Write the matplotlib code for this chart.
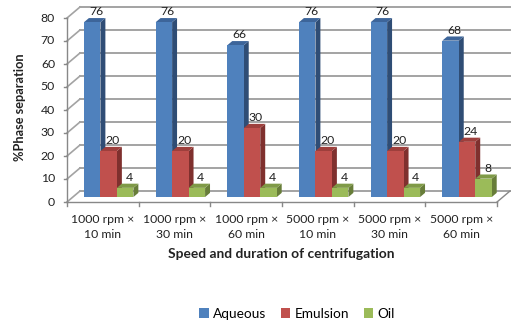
import numpy as np
import matplotlib.pyplot as plt
from matplotlib.patches import Polygon, Patch

plt.rcParams['font.family'] = ['Lato', 'DejaVu Sans']

# データ
categories = ['1000 rpm ×\n10 min', '1000 rpm ×\n30 min', '1000 rpm ×\n60 min',
              '5000 rpm ×\n10 min', '5000 rpm ×\n30 min', '5000 rpm ×\n60 min']
aqueous = [76, 76, 66, 76, 76, 68]
emulsion = [20, 20, 30, 20, 20, 24]
oil = [4, 4, 4, 4, 4, 8]
series_names = ['Aqueous', 'Emulsion', 'Oil']
yticks = np.arange(0, 81, 10)

# 色 (前面, 側面, 上面)
colors = [('#4F81BD', '#2F4D75', '#3D659A'),
          ('#C0504D', '#7F302E', '#9E3F3C'),
          ('#9BBB59', '#677D39', '#7F9A47')]

# 3D風の奥行き (データ単位)
px_x = 71.67   # 1カテゴリあたりのピクセル
px_y = 2.3     # 1単位あたりのピクセル
dx = 13 / px_x
dy = 11 / px_y
f0, f1 = 0.45, 0.83   # 棒の前面と背面の奥行き比率
bw = 0.23
grid_c = '#A3A3A3'

fig = plt.figure(figsize=(5.2, 3.28), dpi=100)
ax = fig.add_axes([0, 0, 1, 1])
ax.set_xlim(-67 / px_x, (520 - 67) / px_x)
ax.set_ylim(-(328 - 202) / px_y, 202 / px_y)
ax.axis('off')

n = len(categories)

# 壁のグリッド線
for v in yticks:
    ax.plot([dx, n + dx], [v + dy, v + dy], color=grid_c, lw=1.4, zorder=1)
    ax.plot([0, dx], [v, v], color=grid_c, lw=0, zorder=1)
    ax.plot([0, dx], [v, v + dy], color=grid_c, lw=1.2, zorder=1)
    ax.plot([-3 / px_x, 0], [v, v], color='#888888', lw=1, zorder=1)
    ax.text(-12 / px_x, v, str(v), ha='right', va='center', fontsize=8.8, color='#222222')

# 軸と床
ax.plot([0, 0], [0, 80], color='#888888', lw=1, zorder=1)
ax.plot([0, n], [0, 0], color='#888888', lw=1, zorder=1)
ax.plot([n, n + dx], [0, dy], color='#888888', lw=1, zorder=1)
for i in range(n + 1):
    ax.plot([i, i], [0, -4 / px_y], color='#888888', lw=1, zorder=1)

# 棒
z = 2
for i in range(n):
    vals = [aqueous[i], emulsion[i], oil[i]]
    for k, v in enumerate(vals):
        x0 = i + 0.5 - 1.5 * bw + k * bw + f0 * dx
        x1 = x0 + bw
        y0 = f0 * dy
        y1 = v + f0 * dy
        ddx = (f1 - f0) * dx
        ddy = (f1 - f0) * dy
        front, side, top = colors[k]
        ax.add_patch(Polygon([[x1, y0], [x1 + ddx, y0 + ddy], [x1 + ddx, y1 + ddy], [x1, y1]],
                             closed=True, fc=side, ec='none', zorder=z))
        ax.add_patch(Polygon([[x0, y1], [x1, y1], [x1 + ddx, y1 + ddy], [x0 + ddx, y1 + ddy]],
                             closed=True, fc=top, ec='none', zorder=z))
        ax.add_patch(Polygon([[x0, y0], [x1, y0], [x1, y1], [x0, y1]],
                             closed=True, fc=front, ec='none', zorder=z))
        z += 1
        ax.text((x0 + x1) / 2 + 4 / px_x, y1 + ddy + 0.3, str(v), ha='center', va='bottom',
                fontsize=8.8, color='#222222', zorder=50)

# カテゴリラベル
for i, c in enumerate(categories):
    ax.text(i + 0.5, -12 / px_y, c, ha='center', va='top', fontsize=8.8,
            color='#222222', linespacing=1.45)

fig.text(281 / 520, 1 - 254 / 328, 'Speed and duration of centrifugation',
         ha='center', va='center', fontsize=9.9, fontweight='bold', color='#222222')
fig.text(20 / 520, 1 - 107 / 328, '%Phase separation', ha='center', va='center',
         rotation=90, fontsize=9.2, fontweight='bold', color='#222222')

handles = [Patch(fc=colors[k][0], ec='none') for k in range(3)]
fig.legend(handles, series_names, loc='center', bbox_to_anchor=(297 / 520, 1 - 314 / 328),
           ncol=3, frameon=False, fontsize=9.8, handlelength=0.7, handleheight=0.7,
           handletextpad=0.3, columnspacing=1.1)

fig.savefig('out.png', dpi=100)
